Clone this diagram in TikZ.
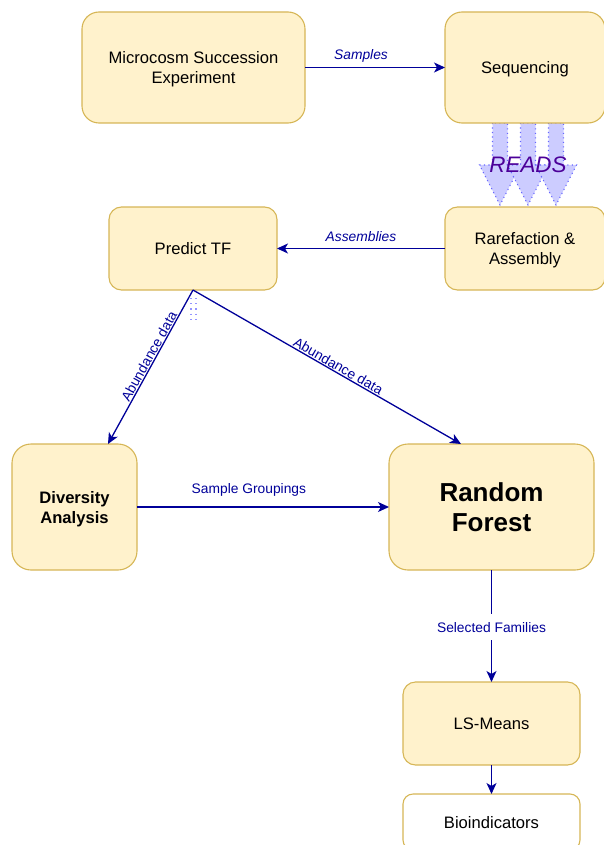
\documentclass[tikz,border=0pt]{standalone}
\usepackage{fontspec}
\setmainfont{Liberation Sans}
\usetikzlibrary{arrows.meta,calc,backgrounds}

\definecolor{boxfill}{HTML}{FFF2CC}
\definecolor{boxline}{HTML}{D6B656}
\definecolor{flow}{HTML}{000099}
\definecolor{readfill}{HTML}{CCCCFF}
\definecolor{readline}{HTML}{6666FF}
\definecolor{readtext}{HTML}{4C0099}

\tikzset{
  card/.style={draw=boxline, fill=boxfill, line width=1.1pt, rounded corners=#1,
    align=center, inner sep=0pt, outer sep=0pt, text depth=0pt,
    font=\fontsize{16.6}{19.5}\selectfont},
  card/.default=12.5pt,
  link/.style={draw=flow, line width=1.3pt, -{Stealth[length=11pt,width=10pt,inset=3pt]}},
  lbl/.style={text=flow, font=\fontsize{13.8}{16}\selectfont, inner sep=1pt, text depth=0pt},
  ilbl/.style={lbl, font=\fontsize{13.8}{16}\selectfont\itshape},
  fat/.style={fill=readfill, draw=readline, line width=1.1pt, dash pattern=on 1.1pt off 3.4pt},
}

\begin{document}
\begin{tikzpicture}[x=1pt,y=-1pt]
\useasboundingbox (0,0) rectangle (604,845);

% process boxes
\node[card=17pt, minimum width=223pt, minimum height=111pt] (micro) at (193.5,67.5) {Microcosm Succession\\Experiment};
\node[card=17pt, minimum width=160pt, minimum height=111pt] (seq) at (525,67.5) {Sequencing};
\node[card, minimum width=160pt, minimum height=83pt] (rare) at (525,248.5) {Rarefaction \&\\Assembly};
\node[card, minimum width=168pt, minimum height=83pt] (ptf) at (193,248.5) {Predict TF};
\node[card=19pt, minimum width=125pt, minimum height=126pt, font=\fontsize{16.6}{20}\selectfont\bfseries] (div) at (74.5,507) {Diversity\\Analysis};
\node[card=19pt, minimum width=205pt, minimum height=126pt, font=\fontsize{26}{30}\selectfont\bfseries] (rf) at (491.5,507) {Random\\Forest};
\node[card, minimum width=177pt, minimum height=83pt] (ls) at (491.5,723.5) {LS-Means};
\node[card=10pt, fill=white, minimum width=177pt, minimum height=56pt] (bio) at (491.5,822) {Bioindicators};

% sequencing output: three broad arrows
\begin{scope}[on background layer]
  \foreach \d in {-25,3,31}{
    \draw[fat] ($(seq.south)+(\d-7.5,0)$) -- ++(0,42) -- ++(-13,0) -- ++(20.5,40)
      -- ++(20.5,-40) -- ++(-13,0) -- ++(0,-42) -- cycle;
  }
\end{scope}
\node[text=readtext, inner sep=0pt, font=\fontsize{22.4}{26}\selectfont\itshape] (reads) at ($(seq.south)+(3,42)$) {READS};

% connectors
\draw[link] (micro.east) -- (seq.west) node[ilbl, pos=0.4, yshift=12.5pt] {Samples};
\draw[link] (rare.west) -- (ptf.east) node[ilbl, pos=0.5, yshift=12.5pt] {Assemblies};
\draw[link] (ptf.south) -- ([xshift=33.5pt]div.north) node[lbl, pos=0.45, sloped, above] {Abundance data};
\draw[link] (ptf.south) -- ([xshift=-30.5pt]rf.north) node[lbl, pos=0.53, sloped, above] {Abundance data};
\draw[link] (div.east) -- (rf.west) node[lbl, pos=0.444, yshift=19pt] {Sample Groupings};
\draw[link] (rf.south) -- (ls.north) node[lbl, pos=0.51, fill=white, inner xsep=2pt, inner ysep=8pt] {Selected Families};
\draw[link] (ls.south) -- (bio.north);

% small dotted mark under Predict TF
\draw[readline!70, line width=1.2pt, dash pattern=on 1.2pt off 4pt]
  ([xshift=-2pt,yshift=-8pt]ptf.south) -- ++(0,22)
  ([xshift=3pt,yshift=-8pt]ptf.south) -- ++(0,22);
\end{tikzpicture}
\end{document}
